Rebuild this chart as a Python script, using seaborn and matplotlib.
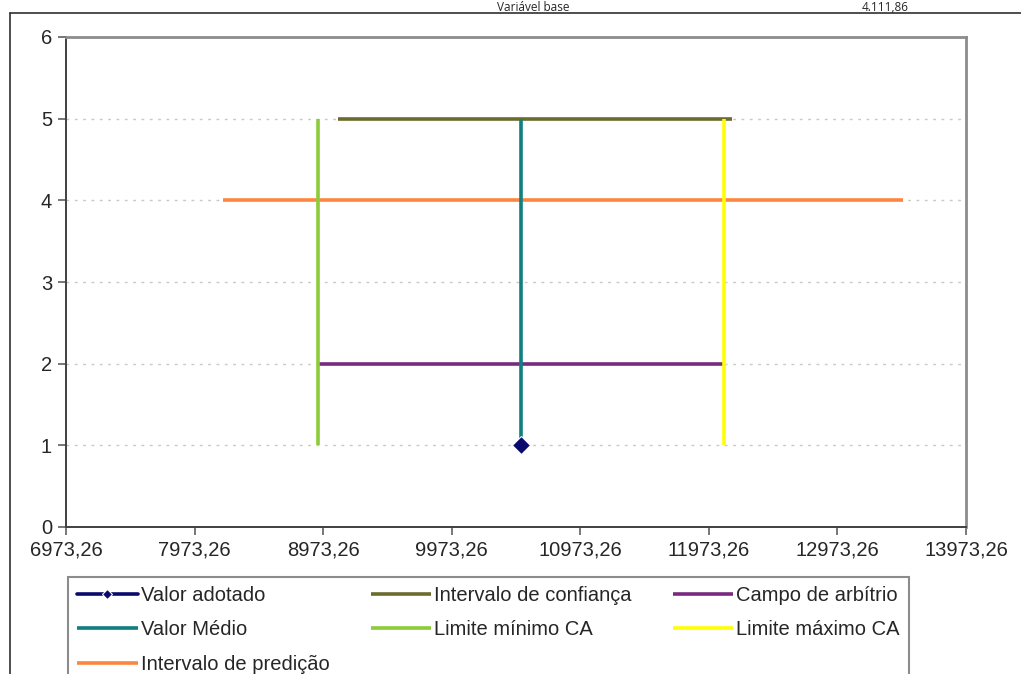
import numpy as np
import pandas as pd
import matplotlib
matplotlib.use("Agg")
import matplotlib.pyplot as plt
import matplotlib.ticker as plticker
from matplotlib.lines import Line2D
import seaborn as sns

# %% data

valor_medio = 10512.0
valor_adotado = 10512.0
limite_min_ca = 8935.0
limite_max_ca = 12089.0
conf_lo, conf_hi = 9091.0, 12153.0
pred_lo, pred_hi = 8192.0, 13483.0

x_ticks = [6973.26, 7973.26, 8973.26, 9973.26, 10973.26, 11973.26, 12973.26, 13973.26]
y_ticks = [0, 1, 2, 3, 4, 5, 6]

series_names = ['Intervalo de predição', 'Campo de arbítrio', 'Intervalo de confiança',
                'Limite mínimo CA', 'Limite máximo CA', 'Valor Médio']
series_x = [[pred_lo, pred_hi], [limite_min_ca, limite_max_ca], [conf_lo, conf_hi],
            [limite_min_ca, limite_min_ca], [limite_max_ca, limite_max_ca], [valor_medio, valor_medio]]
series_y = [[4, 4], [2, 2], [5, 5], [1, 5], [1, 5], [1, 5]]

colors = {
    'Valor adotado': '#0a0a6e',
    'Intervalo de confiança': '#6b6b2e',
    'Campo de arbítrio': '#7a2a7e',
    'Valor Médio': '#0f7f80',
    'Limite mínimo CA': '#8ccb3a',
    'Limite máximo CA': '#ffff00',
    'Intervalo de predição': '#fb8640',
}

rows = []
for name, xs, ys in zip(series_names, series_x, series_y):
    for xv, yv in zip(xs, ys):
        rows.append({'serie': name, 'x': xv, 'y': yv})
df = pd.DataFrame(rows)

# %% plot

sns.set_style("white")
plt.rcParams['font.family'] = ['Liberation Sans', 'DejaVu Sans']

fig = plt.figure(figsize=(10.21, 6.74), dpi=100)
ax = fig.add_axes([66 / 1021, 1 - 527 / 674, 900 / 1021, 490 / 674])

for name in series_names:
    d = df[df['serie'] == name]
    sns.lineplot(data=d, x='x', y='y', color=colors[name], linewidth=2.6,
                 estimator=None, sort=False, label=name, ax=ax, solid_capstyle='butt')

sns.lineplot(x=[valor_adotado], y=[1], color=colors['Valor adotado'], marker='D',
             markersize=9, linewidth=2.6, label='Valor adotado', ax=ax)

handles, labels = ax.get_legend_handles_labels()
if ax.get_legend() is not None:
    ax.get_legend().remove()

ax.set_xlim(x_ticks[0], x_ticks[-1])
ax.set_ylim(y_ticks[0], y_ticks[-1])
ax.xaxis.set_major_locator(plticker.FixedLocator(x_ticks))
ax.yaxis.set_major_locator(plticker.FixedLocator(y_ticks))
ax.set_xticklabels([f"{v:.2f}".replace('.', ',') for v in x_ticks])
ax.set_yticklabels([str(v) for v in y_ticks])
ax.set_xlabel("")
ax.set_ylabel("")
ax.tick_params(axis='both', direction='out', length=6, width=1.2, color='#606060',
               labelsize=14.5, pad=4, left=True, bottom=True)
ax.yaxis.grid(True, color='#c8c8c8', linestyle=(0, (2, 4)), linewidth=1)
ax.xaxis.grid(False)
for side in ['top', 'right']:
    ax.spines[side].set_color('#8c8c8c')
    ax.spines[side].set_linewidth(2)
for side in ['left', 'bottom']:
    ax.spines[side].set_color('#404040')
    ax.spines[side].set_linewidth(1.4)

# legend in the Excel order (column-major fill)
lookup = dict(zip(labels, handles))
order = ['Valor adotado', 'Valor Médio', 'Intervalo de predição',
         'Intervalo de confiança', 'Limite mínimo CA',
         'Campo de arbítrio', 'Limite máximo CA']
leg = fig.legend([lookup[k] for k in order], order, ncol=3, loc='upper left',
                 bbox_to_anchor=(58 / 1021, 1 - 574 / 674, 861 / 1021, 0.01),
                 mode='expand', fontsize=14.5, handlelength=3.0, handletextpad=0.15,
                 labelspacing=0.75, borderpad=0.45, columnspacing=1.5,
                 frameon=True, fancybox=False, edgecolor='#8c8c8c', framealpha=1)
leg.get_frame().set_linewidth(1.5)
leg.legend_handles[0].set_markersize(5)

# outer chart-area frame and the sheet text above it
fig.add_artist(Line2D([10 / 1021, 10 / 1021], [0, 1 - 13 / 674], transform=fig.transFigure,
                      color='#303030', linewidth=1.2))
fig.add_artist(Line2D([10 / 1021, 1], [1 - 13 / 674, 1 - 13 / 674], transform=fig.transFigure,
                      color='#303030', linewidth=1.2))
fig.text(497 / 1021, 1 - 1 / 674, "Variável base", fontsize=8.5, family=['Open Sans', 'DejaVu Sans'],
         va='top', ha='left')
fig.text(862 / 1021, 1 - 1 / 674, "4.111,86", fontsize=8.5, family=['Open Sans', 'DejaVu Sans'],
         va='top', ha='left')

fig.savefig("out.png", dpi=100)
